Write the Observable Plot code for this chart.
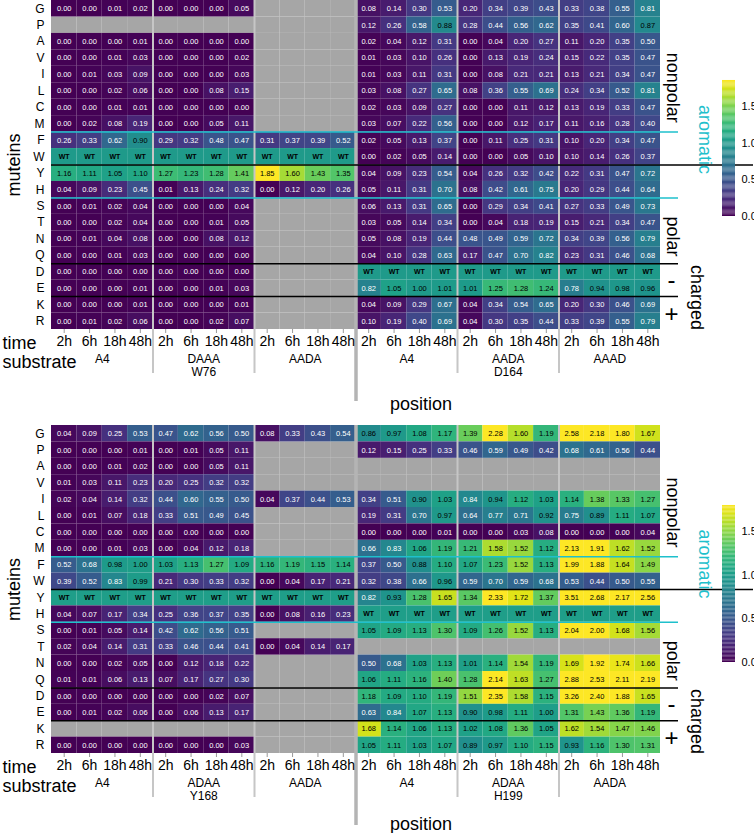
<!DOCTYPE html>
<html><head><meta charset="utf-8">
<script src="https://cdn.jsdelivr.net/npm/d3@7"></script>
<script src="https://cdn.jsdelivr.net/npm/@observablehq/plot@0.6"></script>
<style>
body{margin:0;background:#fff;font-family:"Liberation Sans",Arial,sans-serif;}
#wrap{position:relative;width:754px;height:833px;overflow:hidden;}
#wrap > div{position:absolute;}
#wrap svg{max-width:none !important;}
</style></head><body><div id="wrap"></div>
<script>
const muteins = ["G","P","A","V","I","L","C","M","F","W","Y","H","S","T","N","Q","D","E","K","R"];
const times = ["2h","6h","18h","48h"];

// ---- top panel: positions W76 and D164 ----
const W76_A4 = [[0,0,0.01,0.02],null,[0,0,0,0.01],[0,0,0.01,0.03],[0,0.01,0.03,0.09],[0,0,0.02,0.06],[0,0,0.01,0.01],[0,0.02,0.08,0.19],
  [0.26,0.33,0.62,0.90],"WT",[1.16,1.11,1.05,1.10],[0.04,0.09,0.23,0.45],[0,0.01,0.02,0.04],[0,0,0.02,0.04],[0,0.01,0.04,0.08],[0,0,0.01,0.03],
  [0,0,0,0],[0,0,0,0.01],[0,0,0,0.01],[0,0.01,0.02,0.06]];
const W76_DAAA = [[0,0,0,0.05],null,[0,0,0,0],[0,0,0,0.02],[0,0,0,0.03],[0,0,0.08,0.15],[0,0,0,0],[0,0,0.05,0.11],
  [0.29,0.32,0.48,0.47],"WT",[1.27,1.23,1.28,1.41],[0.01,0.13,0.24,0.32],[0,0,0,0.04],[0,0,0.01,0.05],[0,0,0.08,0.12],[0,0,0,0],
  [0,0,0,0],[0,0,0.01,0.03],[0,0,0,0.01],[0,0,0.02,0.07]];
const W76_AADA = [null,null,null,null,null,null,null,null,
  [0.31,0.37,0.39,0.52],"WT",[1.85,1.60,1.43,1.35],[0,0.12,0.20,0.26],null,null,null,null,
  null,null,null,null];
const D164_A4 = [[0.08,0.14,0.30,0.53],[0.12,0.26,0.58,0.88],[0.02,0.04,0.12,0.31],[0.01,0.03,0.10,0.26],[0.01,0.03,0.11,0.31],[0.03,0.08,0.27,0.65],[0.02,0.03,0.09,0.27],[0.03,0.07,0.22,0.56],
  [0.02,0.05,0.13,0.37],[0,0.02,0.05,0.14],[0.04,0.09,0.23,0.54],[0.05,0.11,0.31,0.70],[0.06,0.13,0.31,0.65],[0.03,0.05,0.14,0.34],[0.05,0.08,0.19,0.44],[0.04,0.10,0.28,0.63],
  "WT",[0.82,1.05,1.00,1.01],[0.04,0.09,0.29,0.67],[0.10,0.19,0.40,0.69]];
const D164_AADA = [[0.20,0.34,0.39,0.43],[0.28,0.44,0.56,0.62],[0,0.04,0.20,0.27],[0,0.13,0.19,0.24],[0,0.08,0.21,0.21],[0.08,0.36,0.55,0.69],[0,0,0.11,0.12],[0,0,0.12,0.17],
  [0,0.11,0.25,0.31],[0,0,0.05,0.10],[0.04,0.26,0.32,0.42],[0.08,0.42,0.61,0.75],[0,0.29,0.34,0.41],[0,0.04,0.18,0.19],[0.48,0.49,0.59,0.72],[0.17,0.47,0.70,0.82],
  "WT",[1.01,1.25,1.28,1.24],[0.04,0.34,0.54,0.65],[0.04,0.30,0.35,0.44]];
const D164_AAAD = [[0.33,0.38,0.55,0.81],[0.35,0.41,0.60,0.87],[0.11,0.20,0.35,0.50],[0.15,0.22,0.35,0.47],[0.13,0.21,0.34,0.47],[0.24,0.34,0.52,0.81],[0.13,0.19,0.33,0.47],[0.11,0.16,0.28,0.40],
  [0.10,0.20,0.34,0.47],[0.10,0.14,0.26,0.37],[0.22,0.31,0.47,0.72],[0.20,0.29,0.44,0.64],[0.27,0.33,0.49,0.73],[0.15,0.21,0.34,0.47],[0.34,0.39,0.56,0.79],[0.23,0.31,0.46,0.68],
  "WT",[0.78,0.94,0.98,0.96],[0.20,0.30,0.46,0.69],[0.33,0.39,0.55,0.79]];

// ---- bottom panel: positions Y168 and H199 ----
const Y168_A4 = [[0.04,0.09,0.25,0.53],[0,0,0,0.01],[0,0,0.01,0.02],[0.01,0.03,0.11,0.23],[0.02,0.04,0.14,0.32],[0,0.01,0.07,0.18],[0,0,0,0],[0,0,0.01,0.03],
  [0.52,0.68,0.98,1.00],[0.39,0.52,0.83,0.99],"WT",[0.04,0.07,0.17,0.34],[0,0.01,0.05,0.14],[0.02,0.04,0.14,0.31],[0,0,0.02,0.05],[0.01,0.01,0.06,0.13],
  [0,0,0,0],[0,0.01,0.02,0.06],null,[0,0,0,0]];
const Y168_ADAA = [[0.47,0.62,0.56,0.50],[0,0.01,0.05,0.11],[0,0,0.05,0.11],[0.20,0.25,0.32,0.32],[0.44,0.60,0.55,0.50],[0.33,0.51,0.49,0.45],[0,0,0,0],[0,0.04,0.12,0.18],
  [1.03,1.13,1.27,1.09],[0.21,0.30,0.33,0.32],"WT",[0.25,0.36,0.37,0.35],[0.42,0.62,0.56,0.51],[0.33,0.46,0.44,0.41],[0,0.12,0.18,0.22],[0.07,0.17,0.27,0.30],
  [0,0,0.02,0.07],[0,0.06,0.13,0.17],null,[0,0,0,0.03]];
const Y168_AADA = [[0.08,0.33,0.43,0.54],null,null,null,[0.04,0.37,0.44,0.53],null,null,null,
  [1.16,1.19,1.15,1.14],[0,0.04,0.17,0.21],"WT",[0,0.08,0.16,0.23],null,[0,0.04,0.14,0.17],null,null,
  null,null,null,null];
const H199_A4 = [[0.86,0.97,1.08,1.17],[0.12,0.15,0.25,0.33],null,null,[0.34,0.51,0.90,1.03],[0.19,0.31,0.70,0.97],[0,0,0,0.01],[0.66,0.83,1.06,1.19],
  [0.37,0.50,0.88,1.10],[0.32,0.38,0.66,0.96],[0.82,0.93,1.28,1.65],"WT",[1.05,1.09,1.13,1.30],null,[0.50,0.68,1.03,1.13],[1.06,1.11,1.16,1.40],
  [1.18,1.09,1.10,1.19],[0.63,0.84,1.07,1.13],[1.68,1.14,1.06,1.13],[1.05,1.11,1.03,1.07]];
const H199_ADAA = [[1.39,2.28,1.60,1.19],[0.46,0.59,0.49,0.42],null,null,[0.84,0.94,1.12,1.03],[0.64,0.77,0.71,0.92],[0,0,0.03,0.08],[1.21,1.58,1.52,1.12],
  [1.07,1.23,1.52,1.13],[0.59,0.70,0.59,0.68],[1.34,2.33,1.72,1.37],"WT",[1.09,1.26,1.52,1.13],null,[1.01,1.14,1.54,1.19],[1.28,2.14,1.63,1.27],
  [1.51,2.35,1.58,1.15],[0.90,0.98,1.11,1.00],[1.02,1.08,1.36,1.05],[0.89,0.97,1.10,1.15]];
const H199_AADA = [[2.58,2.18,1.80,1.67],[0.68,0.61,0.56,0.44],null,null,[1.14,1.38,1.33,1.27],[0.75,0.89,1.11,1.07],[0,0,0,0.04],[2.13,1.91,1.62,1.52],
  [1.99,1.88,1.64,1.49],[0.53,0.44,0.50,0.55],[3.51,2.68,2.17,2.56],"WT",[2.04,2.00,1.68,1.56],null,[1.69,1.92,1.74,1.66],[2.88,2.53,2.11,2.19],
  [3.26,2.40,1.88,1.65],[1.31,1.43,1.36,1.19],[1.62,1.54,1.47,1.46],[0.93,1.16,1.30,1.31]];

const topPositions = ["W76","D164"];
const topSubstrates = ["A4","DAAA","AADA","A4","AADA","AAAD"];
const bottomPositions = ["Y168","H199"];
const bottomSubstrates = ["A4","ADAA","AADA","A4","ADAA","AADA"];
const colorTicks = [0, 0.5, 1, 1.5];

const wtShade = 1.0;           // WT cells are shaded as relative activity 1
const cyanBreaks = [8, 12];     // M|F and H|S
const longBreak = [10];         // boundary drawn to the right edge
const blackBreaks = [16, 18];   // Q|D and E|K

const fmt = d3.format(".2f");
const NA = "#a6a6a6", CYAN = "#1ec0cc", FONT = "'Liberation Sans', Arial, sans-serif";
const ML = 51, MR = 94, W = 754;
const colW = (W - ML - MR) / 24;

function buildCells(groups) {
  const cells = [];
  groups.forEach((rows, gi) => rows.forEach((row, r) => {
    times.forEach((t, ti) => {
      const col = gi * 4 + ti;
      if (row === null) cells.push({col, r, kind: "na"});
      else if (row === "WT") cells.push({col, r, kind: "wt", v: wtShade, label: "WT"});
      else cells.push({col, r, kind: "val", v: row[ti], label: fmt(row[ti])});
    });
  }));
  return cells;
}

function drawPanel(cfg) {
  const rowH = (cfg.height - cfg.mt - cfg.mb) / 20;
  const cells = buildCells(cfg.groups);
  const na = cells.filter(d => d.kind === "na");
  const filled = cells.filter(d => d.kind !== "na");
  const vals = filled.filter(d => d.kind === "val");
  const dark = vals.filter(d => d.v >= cfg.thr);
  const light = vals.filter(d => d.v < cfg.thr);
  const wt = filled.filter(d => d.kind === "wt");
  const pxRows = px => 20 + px / rowH;
  const pxCols = px => 24 + px / colW;
  const X1 = d => d.col, X2 = d => d.col + 1, Y1 = d => d.r, Y2 = d => d.r + 1;
  const XC = d => d.col + 0.5, YC = d => d.r + 0.5;
  const subs = cfg.substrates.map((s, i) => ({s, x: i * 4 + 2}));
  const poss = cfg.positions.map((p, i) => ({p, x: i * 12 + 6}));
  const inner = [{t: "nonpolar", y: 5.3}, {t: "polar", y: 14.35}];
  const signs = [{t: "-", y: 17.0}, {t: "+", y: 19.05}];
  return Plot.plot({
    width: W, height: cfg.height, marginLeft: ML, marginRight: MR, marginTop: cfg.mt, marginBottom: cfg.mb,
    style: {fontFamily: FONT, background: "white", overflow: "visible"},
    x: {domain: [0, 24]},
    y: {domain: [0, 20], reverse: true},
    color: {type: "linear", scheme: "viridis", domain: [0, cfg.cmax], clamp: true},
    marks: [
      Plot.rect(na, {x1: X1, x2: X2, y1: Y1, y2: Y2, fill: NA}),
      Plot.rect(filled, {x1: X1, x2: X2, y1: Y1, y2: Y2, fill: "v"}),
      Plot.text(dark, {x: XC, y: YC, text: "label", fill: "black", fontSize: 7.5}),
      Plot.text(light, {x: XC, y: YC, text: "label", fill: "white", fontSize: 7.5}),
      Plot.text(wt, {x: XC, y: YC, text: "label", fill: "black", fontSize: 7, fontWeight: "bold"}),
      Plot.ruleX([4, 8, 16, 20], {y1: 0, y2: pxRows(44), stroke: "#c6c6c6", strokeWidth: 2}),
      Plot.ruleX([12], {y1: 0, y2: pxRows(72), stroke: "#b4b4b4", strokeWidth: 3.5}),
      Plot.ruleY(cyanBreaks, {x1: 0, x2: pxCols(18), stroke: CYAN, strokeWidth: 1.5}),
      Plot.ruleY(longBreak, {x1: 0, x2: pxCols(93), stroke: "black", strokeWidth: 1.5}),
      Plot.ruleY(blackBreaks, {x1: 0, x2: pxCols(18), stroke: "black", strokeWidth: 1.5}),
      Plot.axisY(d3.range(20).map(i => i + 0.5), {tickFormat: d => muteins[Math.floor(d)], tickSize: 0, tickPadding: 7, fontSize: 12, label: null}),
      Plot.axisX(d3.range(24).map(i => i + 0.5), {tickFormat: d => times[Math.floor(d) % 4], tickSize: 4, tickPadding: 3, fontSize: 14, stroke: "#999", label: null}),
      Plot.text(subs, {x: "x", y: 20, dy: 30, text: "s", fontSize: 12}),
      Plot.text(poss, {x: "x", y: 20, dy: 43, text: "p", fontSize: 12}),
      Plot.text(["position"], {x: 12, y: 20, dx: 65, dy: cfg.posDy, text: d => d, fontSize: 18}),
      Plot.text(["time"], {x: 0, y: 20, dx: -49, dy: 14, text: d => d, fontSize: 18, textAnchor: "start"}),
      Plot.text(["substrate"], {x: 0, y: 20, dx: -49, dy: 33, text: d => d, fontSize: 18, textAnchor: "start"}),
      Plot.text(["muteins"], {x: 0, y: 10, dx: -37, text: d => d, fontSize: 18, rotate: -90}),
      Plot.text(inner, {x: 24, y: "y", dx: 12, text: "t", fontSize: 18, rotate: 90}),
      Plot.text([{t: "aromatic", y: 8.45}], {x: 24, y: "y", dx: 44, text: "t", fill: CYAN, fontSize: 18, rotate: 90}),
      Plot.text([{t: "charged", y: 18.05}], {x: 24, y: "y", dx: 36, text: "t", fontSize: 18, rotate: 90}),
      Plot.text(signs, {x: 24, y: "y", dx: 11, text: "t", fontSize: 24})
    ]
  });
}

function drawColorbar(cmax, barH) {
  const n = 120;
  const steps = d3.range(n).map(i => i / n * cmax);
  return Plot.plot({
    width: 60, height: barH + 12, marginTop: 6, marginBottom: 6, marginLeft: 0, marginRight: 47,
    style: {fontFamily: FONT, background: "transparent", overflow: "visible"},
    x: {domain: [0, 1], axis: null},
    y: {domain: [0, cmax]},
    color: {type: "linear", scheme: "viridis", domain: [0, cmax]},
    marks: [
      Plot.rect(steps, {x1: 0, x2: 1, y1: d => d, y2: d => d + cmax / n * 1.02, fill: d => d}),
      Plot.axisY(colorTicks, {anchor: "right", tickFormat: d3.format(".1f"), tickSize: 0, tickPadding: 6, fontSize: 11, label: null})
    ]
  });
}

const wrap = document.getElementById("wrap");
function place(node, left, top, w) {
  const d = document.createElement("div");
  d.style.left = left + "px"; d.style.top = top + "px"; d.style.width = w + "px";
  d.appendChild(node); wrap.appendChild(d);
}

place(drawPanel({
  groups: [W76_A4, W76_DAAA, W76_AADA, D164_A4, D164_AADA, D164_AAAD],
  substrates: topSubstrates, positions: topPositions,
  height: 416, mt: 0, mb: 87, cmax: 1.85, thr: 0.86, posDy: 75
}), 0, 0, 754);
place(drawPanel({
  groups: [Y168_A4, Y168_ADAA, Y168_AADA, H199_A4, H199_ADAA, H199_AADA],
  substrates: bottomSubstrates, positions: bottomPositions,
  height: 417, mt: 9, mb: 80, cmax: 1.8, thr: 0.86, posDy: 71
}), 0, 416, 754);
place(drawColorbar(1.85, 136), 722, 74, 60);
place(drawColorbar(1.8, 157), 722, 499, 60);
</script></body></html>
